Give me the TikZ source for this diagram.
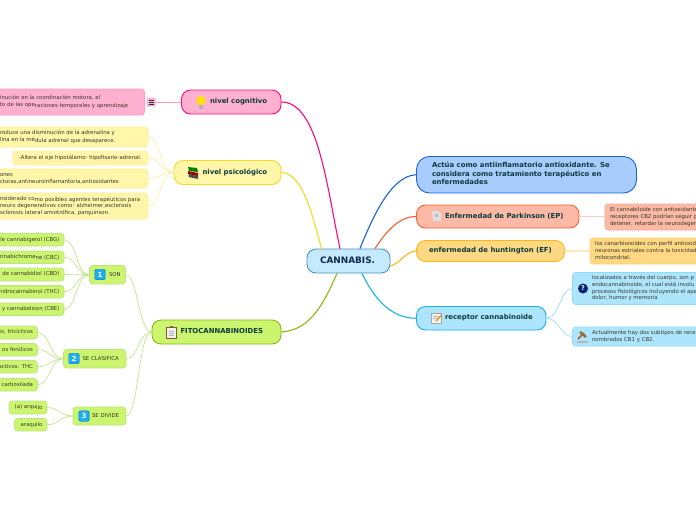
\documentclass[tikz,border=0pt]{standalone}
\usepackage{fontspec}
\setmainfont{DejaVu Sans}
\definecolor{inkmain}{HTML}{0B3B3C}
\definecolor{inknote}{HTML}{3A3A2A}
\tikzset{x=1pt,y=-1pt,
  mainbox/.style={draw,line width=0.9pt,inner sep=0pt,font=\fontsize{6.9}{8.5}\selectfont\bfseries,text=inkmain},
  notebox/.style={draw,line width=0.6pt,rounded corners=3pt,inner sep=0pt,font=\fontsize{5.4}{6.7}\selectfont,text=inknote},
  rootbox/.style={mainbox,draw=C7A,fill=C7B,rounded corners=9pt,font=\fontsize{8.9}{10}\selectfont\bfseries,text=C7T},
  pinkm/.style={mainbox,draw=P1,fill=P2,rounded corners=9pt},
  pinkn/.style={notebox,draw=P3,fill=P2},
  yelm/.style={mainbox,draw=Y1,fill=Y2,rounded corners=9pt},
  yeln/.style={notebox,draw=Y3,fill=Y2},
  grem/.style={mainbox,draw=G1,fill=G2,rounded corners=9pt},
  gren/.style={notebox,draw=G3,fill=G2},
  blum/.style={mainbox,draw=B1,fill=B2,rounded corners=13pt},
  salm/.style={mainbox,draw=S1,fill=S2,rounded corners=9pt},
  saln/.style={notebox,draw=S3,fill=S2},
  oram/.style={mainbox,draw=O1,fill=O2,rounded corners=9pt},
  oran/.style={notebox,draw=O3,fill=O2},
  recm/.style={mainbox,draw=R1,fill=R2,rounded corners=9pt},
  recn/.style={notebox,draw=R3,fill=R2},
  wire/.style={line width=1.1pt,line cap=round},
  thinwire/.style={line width=0.6pt,line cap=round},
  numicon/.style={draw=B1,fill=R1,rounded corners=1.5pt,minimum size=10.5pt,inner sep=0pt,text=white,font=\fontsize{7}{7}\selectfont\bfseries}
}
\definecolor{C7A}{HTML}{4A94C8}\definecolor{C7B}{HTML}{C5E9FD}\definecolor{C7T}{HTML}{0D2A4F}
\definecolor{P1}{HTML}{FF0A78}\definecolor{P2}{HTML}{FFB0D0}\definecolor{P3}{HTML}{FF9CC4}
\definecolor{Y1}{HTML}{F3DC1E}\definecolor{Y2}{HTML}{FFF6AA}\definecolor{Y3}{HTML}{FBEE96}
\definecolor{G1}{HTML}{8CB814}\definecolor{G2}{HTML}{CCF56F}\definecolor{G3}{HTML}{BCE480}
\definecolor{B1}{HTML}{1665D8}\definecolor{B2}{HTML}{A8CCFC}
\definecolor{S1}{HTML}{FB5F30}\definecolor{S2}{HTML}{FBB9A6}\definecolor{S3}{HTML}{FBA994}
\definecolor{O1}{HTML}{FDB813}\definecolor{O2}{HTML}{FFD884}\definecolor{O3}{HTML}{FFD070}
\definecolor{R1}{HTML}{1AB0F0}\definecolor{R2}{HTML}{ADE5FD}\definecolor{R3}{HTML}{8FDAFA}
% box with left aligned or right aligned lines: style,name,x1,y1,x2,y2,pad,lines
\newcommand{\bxl}[8]{\pgfmathsetmacro{\bw}{#5-#3}\pgfmathsetmacro{\bh}{#6-#4}%
  \node[#1,minimum width=\bw pt,minimum height=\bh pt] (#2) at ({(#3+#5)/2},{(#4+#6)/2})
  {\makebox[\bw pt][l]{\hspace*{#7pt}\begin{tabular}[c]{@{}l@{}}#8\end{tabular}}};}
\newcommand{\bxr}[8]{\pgfmathsetmacro{\bw}{#5-#3}\pgfmathsetmacro{\bh}{#6-#4}%
  \node[#1,minimum width=\bw pt,minimum height=\bh pt] (#2) at ({(#3+#5)/2},{(#4+#6)/2})
  {\makebox[\bw pt][r]{\begin{tabular}[c]{@{}r@{}}#8\end{tabular}\hspace*{#7pt}}};}
\newcommand{\dn}[1]{\raisebox{-0.7pt}{#1}}
\begin{document}
\begin{tikzpicture}
\useasboundingbox (0,0) rectangle (696,520);
\clip (0,0) rectangle (696,520);
\fill[white] (0,0) rectangle (696,520);
% nodes
\bxl{rootbox}{root}{307}{249}{390}{273}{13}{CANNABIS.}
\bxl{pinkm}{cog}{181.5}{90}{281}{114}{28.5}{nivel cognitivo}
\bxl{pinkn}{cogn}{-8}{89}{144.5}{115}{8}{inución en la coordinación motora, el\\to de las ope\dn{raciones temporales y aprendizaje}}
\bxl{yelm}{psi}{174}{160.5}{281}{184.5}{28.5}{nivel psicológico}
\bxl{yeln}{psia}{-8}{127}{148}{147}{8}{roduce una disminución de la adrenalina y\\lina en la mé\dn{dula adrenal que desaparece.}}
\bxl{yeln}{psib}{13}{151}{148}{165}{6}{-Altera el eje hipotálamo- hipofisario-adrenal.}
\bxl{yeln}{psic}{-8}{169}{148}{188}{8}{ones\\ctoras,antineuroinflamantoria,antioxidantes}
\bxl{yeln}{psid}{-8}{193}{148}{219}{8}{nsiderado co\dn{mo posibles agentes terapéuticos para}\\neuro degenerativos como: alzheimer,esclerosis\\sclerosis late\dn{ral amiotrófica, parquinson.}}
\bxl{grem}{fito}{152}{320}{281}{344}{28.5}{FITOCANNABINOIDES}
\bxl{gren}{son}{89.5}{265.5}{125.5}{284}{19.5}{SON}
\bxl{gren}{cla}{63.5}{349.5}{126}{368}{19}{SE CLASIFICA}
\bxl{gren}{div}{73}{407}{126}{425}{19}{SE DIVIDE}
\bxr{gren}{sa}{-8}{233.5}{64}{246}{4.5}{le cannabigerol (CBG)}
\bxr{gren}{sb}{-8}{251}{64}{263.5}{4.5}{nnabichrome\dn{ne (CBC)}}
\bxr{gren}{sc}{-8}{268}{64}{281}{4.5}{de cannabidiol (CBD)}
\bxr{gren}{sd}{-8}{285.5}{64}{298}{4.5}{hidrocannabi\dn{nol (THC)}}
\bxr{gren}{se}{-8}{303}{64}{315.5}{4.5}{y cannabelsion (CBE)}
\bxr{gren}{ca}{-8}{326}{37.5}{339}{4.5}{es, tricíclicos}
\bxr{gren}{cb}{-8}{343.5}{37.5}{356}{4.5}{os ferúlicos}
\bxr{gren}{cc}{-8}{360.5}{37.5}{373}{4.5}{activos: THC}
\bxr{gren}{cd}{-8}{378.5}{37.5}{391}{4.5}{carboxilada}
\bxr{gren}{da}{9}{401}{47}{414}{4.5}{(a) arqu\dn{ilo}}
\bxr{gren}{db}{14.5}{418.5}{47}{431}{4.5}{araquilo}
\bxl{blum}{act}{416.5}{156.5}{636.5}{193}{15.5}{Actúa como antiinflamatorio antioxidante. Se\\considera como tratamiento terapéutico en\\enfermedades}
\bxl{salm}{par}{416.5}{205}{579}{228}{28.5}{Enfermedad de Parkinson (EP)}
\bxl{saln}{parn}{605}{204}{705}{230}{5}{El cannabiloide con antioxidante\\receptores CB2 podrían seguir p\\detener, retardar la neurodegen}
\bxl{oram}{hun}{416.5}{240.5}{564.5}{261.5}{12.5}{enfermedad de huntington (EF)}
\bxl{oran}{hunn}{590}{238}{705}{264}{5}{los canarbionoides con perfil antioxid\\neuronas estriales contra la toxicidad\\mitocondrial.}
\bxl{recm}{rec}{416.5}{306.5}{546}{330}{28.5}{receptor cannabinoide}
\bxl{recn}{reca}{572.5}{272.5}{705}{304.5}{19.5}{localizados a través del cuerpo, son p\\endocannabinoide, el cual está involu\\procesos fisiológicos incluyendo el ape\\dolor, humor y memoria}
\bxl{recn}{recb}{572.5}{327}{705}{346}{19.5}{Actualmente hay dos subtipos de rece\\nombrados CB1 y CB2.}
% main connectors
\draw[wire,P1] (cog.east) .. controls +(37,0) and +(-13,-60) .. ([xshift=-8.5pt]root.north);
\draw[wire,Y1] (psi.east) .. controls +(22,1) and +(-9,-32) .. ([xshift=-27pt]root.north);
\draw[wire,B1] ([yshift=0pt]act.west) .. controls +(-24,1) and +(14,-35) .. ([xshift=11.5pt]root.north);
\draw[wire,S1] (par.west) .. controls +(-17,0) and +(11,-17) .. ([xshift=26.5pt]root.north);
\draw[wire,O1] (hun.west) .. controls +(-10,0) and +(9,-2) .. ([yshift=-5pt]root.east);
\draw[wire,R1] (rec.west) .. controls +(-24,0) and +(13,27) .. ([xshift=13.5pt]root.south);
\draw[wire,G1] (fito.east) .. controls +(26,-2) and +(-16,37) .. ([xshift=-11.5pt]root.south);
% secondary connectors
\draw[thinwire,P3,line width=0.8pt] (cog.west) -- ([xshift=10.5pt]cogn.east);
\foreach \n in {psia,psib,psic,psid}{\draw[thinwire,Y3] (psi.west) .. controls +(-13,0) and +(12,0) .. (\n.east);}
\foreach \n in {sa,sb,sc,sd,se}{\draw[thinwire,G3] (son.west) .. controls +(-13,0) and +(12,0) .. (\n.east);}
\foreach \n in {ca,cb,cc,cd}{\draw[thinwire,G3] (cla.west) .. controls +(-13,0) and +(12,0) .. (\n.east);}
\foreach \n in {da,db}{\draw[thinwire,G3] (div.west) .. controls +(-13,0) and +(12,0) .. (\n.east);}
\foreach \n in {son,cla,div}{\draw[thinwire,G3] (fito.west) .. controls +(-13,0) and +(12,0) .. (\n.east);}
\draw[thinwire,line width=1.6pt,S3!60] (par.east) -- (parn.west |- par.east);
\draw[thinwire,line width=1.6pt,O3!50] (hun.east) -- (hunn.west |- hun.east);
\foreach \n in {reca,recb}{\draw[thinwire,R3] (rec.east) .. controls +(13,0) and +(-12,0) .. (\n.west);}
% icons
\fill[P2,rounded corners=1pt] (146.5,97.5) rectangle (155.5,106.5);
\draw[inkmain,line width=0.5pt] (148.5,100) -- (153.5,100) (148.5,102) -- (153.5,102) (148.5,104) -- (153.5,104);
% bulb
\fill[yellow!85!orange] (201,100.5) circle (4.6);
\fill[gray!60] (199,104.5) rectangle (203,108.5);
% books
\fill[green!50!black] (188,167) -- (197,168) -- (198,172) -- (189,171) -- cycle;
\fill[red!60!black] (188,171) -- (198,173) -- (198,176) -- (188,174) -- cycle;
\fill[gray!60!black] (188.5,174) -- (198,176) -- (198,179) -- (188.5,177) -- cycle;
% clipboard
\filldraw[draw=brown!70!black,fill=gray!12,line width=0.7pt] (166.5,327) rectangle (176,338);
\fill[brown!70!black] (169.5,326) rectangle (173,328);
\draw[gray!60,line width=0.4pt] (168.5,331) -- (174,331) (168.5,333) -- (174,333) (168.5,335) -- (174,335);
% numbers
\node[numicon] (ione) at (100,274.5) {1};
\node[numicon] (itwo) at (74,358.5) {2};
\node[numicon] (ithree) at (84,416) {3};
% parkinson sheet
\fill[gray!25] (432,211) -- (438,211) -- (441,214) -- (441,221) -- (433,221) -- cycle;
\fill[gray!55] (435,214) rectangle (438,217);
% pencil note
\filldraw[draw=gray!70,fill=gray!10,line width=0.4pt] (431.5,313) rectangle (441,323.5);
\draw[orange,line width=1.2pt] (436,321) -- (442,314.5);
\draw[gray!60,line width=0.3pt] (433,316) -- (438,316) (433,318) -- (436,318);
% question mark
\node[circle,fill=C7T!80!blue,minimum size=10pt,inner sep=0pt,text=white,font=\fontsize{6.5}{7}\selectfont\bfseries] (iq) at (583,288.5) {?};
% gavel
\draw[brown!80!black,line width=1.6pt] (578,339) -- (584,333);
\draw[brown!80!black,line width=2.4pt] (580,332) -- (586,337);
\fill[gray!55] (577,341) rectangle (588,343);
\end{tikzpicture}
\end{document}
